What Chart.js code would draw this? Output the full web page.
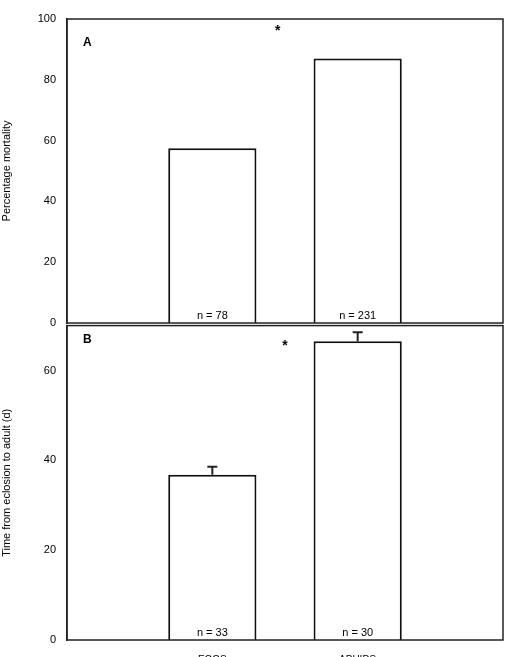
<!DOCTYPE html>
<html><head>
<script src="https://cdn.jsdelivr.net/npm/chart.js@4"></script>
<style>body{margin:0;background:#fff;overflow:hidden}canvas{position:absolute;left:0}</style>
</head><body>
<div style="position:absolute;left:0;top:0;width:510px;height:338px"><canvas id="a"></canvas></div>
<div style="position:absolute;left:0;top:316px;width:510px;height:356px"><canvas id="b"></canvas></div>
<script>
const categories = ['', 'EGGS', 'APHIDS', ''];
const mortality = [null, 57.5, 87, null];
const devTime = [null, 36.8, 66.5, null];
const devTimeErr = [null, 1.8, 2.0, null];
const nA = ['', 'n = 78', 'n = 231', ''];
const nB = ['', 'n = 33', 'n = 30', ''];
const ticksA = [0, 20, 40, 60, 80, 100];
const ticksB = [0, 20, 40, 60];
const FONT = 'Liberation Sans, Arial, sans-serif';
Chart.defaults.font.family = FONT;
Chart.defaults.color = '#000';

function decor(opts) {
  return {
    id: 'decor',
    afterDatasetsDraw(chart) {
      const ctx = chart.ctx, a = chart.chartArea, x = chart.scales.x, y = chart.scales.y;
      ctx.save();
      ctx.strokeStyle = '#222'; ctx.lineWidth = 1.5;
      ctx.strokeRect(a.left, a.top, a.right - a.left, a.bottom - a.top);
      if (opts.err) {
        opts.values.forEach((v, i) => {
          if (v == null) return;
          const px = x.getPixelForValue(i), top = y.getPixelForValue(v), e = y.getPixelForValue(v + opts.err[i]);
          ctx.lineWidth = 2; ctx.beginPath();
          ctx.moveTo(px, top); ctx.lineTo(px, e);
          ctx.moveTo(px - 5, e); ctx.lineTo(px + 5, e); ctx.stroke();
        });
      }
      ctx.fillStyle = '#000'; ctx.textAlign = 'center'; ctx.textBaseline = 'bottom';
      ctx.font = '11px ' + FONT;
      opts.n.forEach((t, i) => { if (t) ctx.fillText(t, x.getPixelForValue(i), a.bottom - 2); });
      ctx.font = 'bold 12px ' + FONT; ctx.textAlign = 'left'; ctx.textBaseline = 'middle';
      ctx.fillText(opts.letter, a.left + 16, opts.letterY);
      ctx.font = 'bold 14px ' + FONT; ctx.textAlign = 'center';
      ctx.fillText('*', x.getPixelForValue(opts.star[0]), y.getPixelForValue(opts.star[1]) + 3);
      ctx.restore();
    }
  };
}

function make(id, data, ticks, max, title, showX, opts, pad) {
  new Chart(document.getElementById(id), {
    type: 'bar',
    data: { labels: categories, datasets: [{ data, backgroundColor: '#fff', borderColor: '#111', borderWidth: 2, barPercentage: 0.607, categoryPercentage: 1 }] },
    options: {
      responsive: true, maintainAspectRatio: false, animation: false,
      layout: { padding: pad },
      plugins: { legend: { display: false }, tooltip: { enabled: false } },
      scales: {
        x: { offset: false, grid: { display: false }, border: { display: false },
             ticks: { display: showX, font: { size: 10 }, padding: 6 } },
        y: { min: 0, max, grid: { display: false, drawTicks: true }, border: { color: '#222', width: 1.5 },
             afterBuildTicks: s => { s.ticks = ticks.map(v => ({ value: v })); },
             afterFit: s => { s.width = 67; },
             ticks: { font: { size: 11 }, padding: 3 },
             title: { display: true, text: title, font: { size: 11 }, padding: 0 } }
      }
    },
    plugins: [decor(opts)]
  });
}

make('a', mortality, ticksA, 100, 'Percentage mortality', false,
  { n: nA, letter: 'A', letterY: 43, star: [1.45, 97] }, { top: 19, right: 7, bottom: 7 });
make('b', devTime, ticksB, 70, 'Time from eclosion to adult (d)', true,
  { n: nB, letter: 'B', letterY: 340 - 316, star: [1.5, 66], values: devTime, err: devTimeErr }, { top: 3, right: 7, bottom: 0 });
</script>
</body></html>
